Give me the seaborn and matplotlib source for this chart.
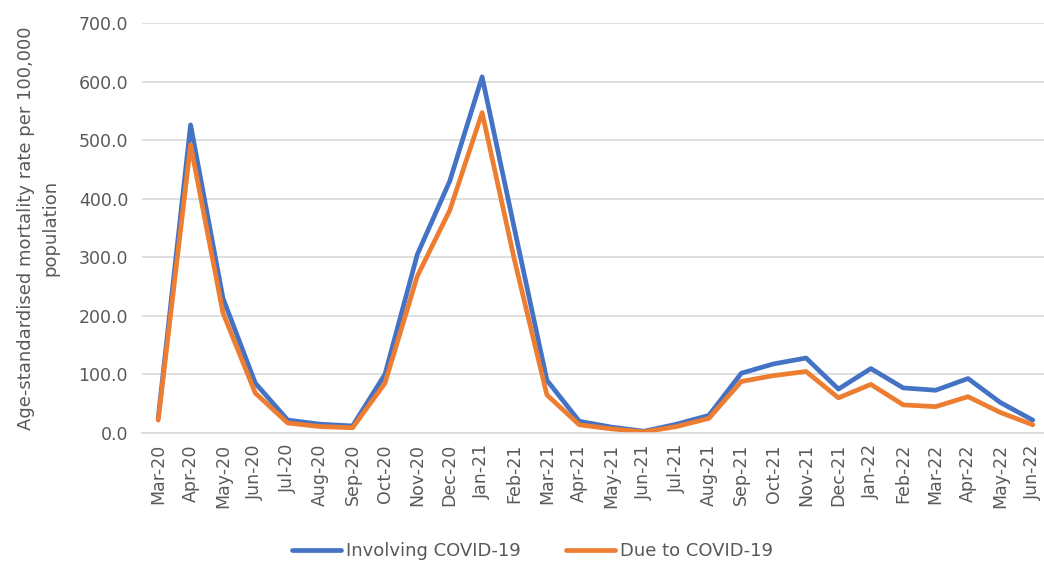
import matplotlib
matplotlib.use("Agg")
import matplotlib.pyplot as plt
import seaborn as sns
import pandas as pd
from matplotlib.ticker import FuncFormatter, MultipleLocator

months = ["Mar-20", "Apr-20", "May-20", "Jun-20", "Jul-20", "Aug-20", "Sep-20", "Oct-20",
          "Nov-20", "Dec-20", "Jan-21", "Feb-21", "Mar-21", "Apr-21", "May-21", "Jun-21",
          "Jul-21", "Aug-21", "Sep-21", "Oct-21", "Nov-21", "Dec-21", "Jan-22", "Feb-22",
          "Mar-22", "Apr-22", "May-22", "Jun-22"]
involving = [25, 526, 230, 85, 22, 15, 12, 100, 305, 430, 608, 348, 90, 20, 10, 3,
             15, 30, 102, 118, 128, 75, 110, 77, 73, 93, 52, 22]
due_to = [22, 492, 205, 68, 17, 11, 9, 85, 268, 380, 547, 295, 65, 14, 7, 2,
          11, 25, 88, 98, 105, 60, 83, 48, 45, 62, 35, 14]
series_names = ["Involving COVID-19", "Due to COVID-19"]
colors = ["#4472C4", "#ED7D31"]

df = pd.DataFrame({
    "month": months * 2,
    "idx": list(range(len(months))) * 2,
    "value": involving + due_to,
    "series": [series_names[0]] * len(months) + [series_names[1]] * len(months),
})

sns.set_theme(style="white")
plt.rcParams["font.family"] = ["DejaVu Sans"]
text_color = "#595959"

fig = plt.figure(figsize=(10.44, 5.61), dpi=100)
ax = fig.add_axes([142 / 1044, 128 / 561, (1049 - 142) / 1044, (433 - 23) / 561])

sns.lineplot(data=df, x="idx", y="value", hue="series", hue_order=series_names,
             palette=colors, linewidth=3.4, sort=False, ax=ax, legend=True)

ax.set_xlim(-0.5, len(months) - 0.5)
ax.set_ylim(0, 700)
ax.yaxis.set_major_locator(MultipleLocator(100))
ax.yaxis.set_major_formatter(FuncFormatter(lambda v, p: f"{v:.1f}"))
ax.set_xticks(range(len(months)))
ax.set_xticklabels(months, rotation=90)
ax.tick_params(axis="both", length=0, labelsize=12.5, colors=text_color)
ax.tick_params(axis="y", pad=10)
ax.tick_params(axis="x", pad=8)
ax.grid(axis="y", color="#d9d9d9", linewidth=1.2)
ax.set_axisbelow(True)
for s in ["top", "right", "left"]:
    ax.spines[s].set_visible(False)
ax.spines["bottom"].set_color("#d9d9d9")
ax.spines["bottom"].set_linewidth(1.2)

ax.set_xlabel("")
ax.set_ylabel("Age-standardised mortality rate per 100,000\npopulation",
              fontsize=13, color=text_color, labelpad=14, linespacing=1.45)

handles, labels = ax.get_legend_handles_labels()
ax.get_legend().remove()
fig.legend(handles, labels, loc="center", bbox_to_anchor=(0.51, 0.018), ncol=2,
           frameon=False, fontsize=13, handlelength=2.7, columnspacing=2.5,
           handletextpad=0.3, labelcolor=text_color)

fig.savefig("out.png", dpi=100)
